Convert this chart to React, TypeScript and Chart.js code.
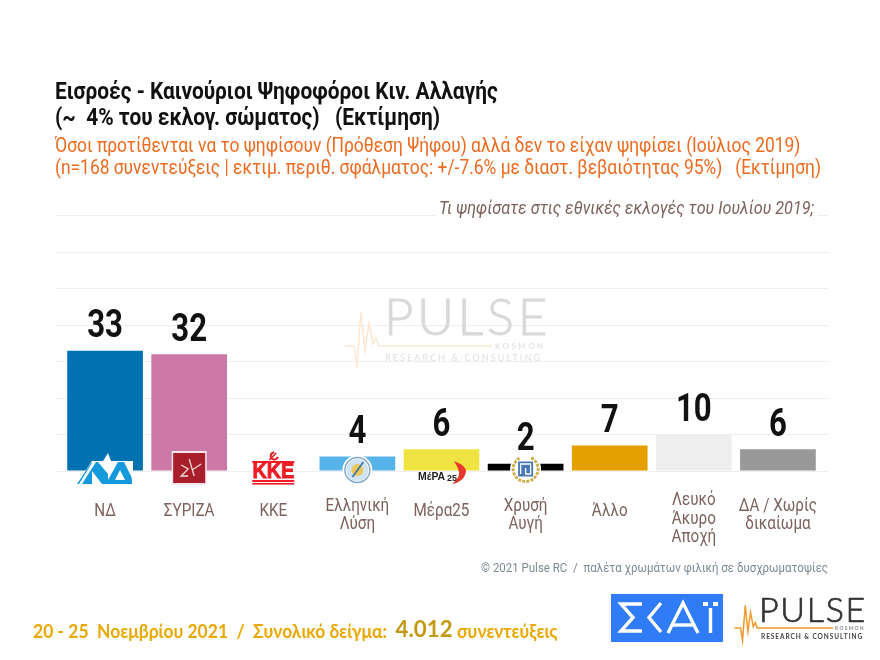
import React, { useEffect, useRef } from "react";
import { Chart, registerables } from "chart.js";

Chart.register(...registerables);

const categories: (string | string[])[] = [
  ["ΝΔ"], ["ΣΥΡΙΖΑ"], ["ΚΚΕ"], ["Ελληνική", "Λύση"], ["Μέρα25"], ["Χρυσή", "Αυγή"], ["Άλλο"],
  ["Λευκό", "Άκυρο", "Αποχή"], ["ΔΑ / Χωρίς", "δικαίωμα"],
];
const values = [33, 32, 0, 4, 6, 2, 7, 10, 6];
const barColors = ["#0072B2", "#CC79A7", "#D55E00", "#56B4E9", "#F0E442", "#000000", "#E69F00", "#EEEEEE", "#999999"];
const titleLines = ["Εισροές - Καινούριοι Ψηφοφόροι Κιν. Αλλαγής", "(~  4% του εκλογ. σώματος)   (Εκτίμηση)"];
const subtitleLines = [
  "Όσοι προτίθενται να το ψηφίσουν (Πρόθεση Ψήφου) αλλά δεν το είχαν ψηφίσει (Ιούλιος 2019)",
  "(n=168 συνεντεύξεις | εκτιμ. περιθ. σφάλματος: +/-7.6% με διαστ. βεβαιότητας 95%)   (Εκτίμηση)",
];
const questionText = "Τι ψηφίσατε στις εθνικές εκλογές του Ιουλίου 2019;";
const creditText = "© 2021 Pulse RC  /  παλέτα χρωμάτων φιλική σε δυσχρωματοψίες";
const sampleA = "20 - 25  Νοεμβρίου 2021  /  Συνολικό δείγμα:  ";
const sampleB = "4.012";
const sampleC = " συνεντεύξεις";

const ROBOTO = 'Roboto, sans-serif';
const CONDENSE = 0.87;

function text(ctx: any, s: string, x: number, y: number, font: string, color: string, align: string = "left", sx = 1) {
  ctx.save();
  ctx.font = font;
  ctx.fillStyle = color;
  ctx.textAlign = align;
  ctx.textBaseline = "middle";
  ctx.translate(x, y);
  ctx.scale(sx, 1);
  ctx.fillText(s, 0, 0);
  ctx.restore();
}

function poly(ctx: any, color: string, pts: number[][]) {
  ctx.fillStyle = color;
  ctx.beginPath();
  pts.forEach(([a, b], i) => (i ? ctx.lineTo(a, b) : ctx.moveTo(a, b)));
  ctx.closePath();
  ctx.fill();
}

function path(ctx: any, color: string, w: number, pts: number[][]) {
  ctx.strokeStyle = color;
  ctx.lineWidth = w;
  ctx.beginPath();
  pts.forEach(([a, b], i) => (i ? ctx.lineTo(a, b) : ctx.moveTo(a, b)));
  ctx.stroke();
}

function pulseLine(ctx: any, x: number, y: number, k: number, color: string, w: number) {
  const pts = [[0, 0], [9, 0], [12, 19], [16, -34], [20, 5], [24, -23], [28, -2], [31, -8], [34, 0], [147, 0]];
  ctx.save();
  path(ctx, color, w, pts.map(([a, b]) => [x + a * k, y + b * k]));
  ctx.restore();
}

function spaced(ctx: any, s: string, x: number, y: number, font: string, spacing: number, color: string, stroke = 0) {
  ctx.save();
  ctx.font = font;
  ctx.letterSpacing = `${spacing}px`;
  ctx.fillStyle = color;
  ctx.textAlign = "left";
  ctx.textBaseline = "middle";
  if (stroke) {
    ctx.strokeStyle = color;
    ctx.lineWidth = stroke;
    ctx.strokeText(s, x, y);
  }
  ctx.fillText(s, x, y);
  ctx.restore();
}

// There is no condensed face installed: library text is narrowed while the title and the axes draw.
const condensed = {
  id: "condensed",
  beforeDraw(chart: any) {
    const ctx = chart.ctx;
    const raw = ctx.fillText;
    const shift = new Map<string, number>();
    categories.forEach((lines) => lines.forEach((l) => shift.set(l, (lines.length - 2) * 4)));
    chart.$rawFill = raw;
    ctx.fillText = function (s: string, x: number, y: number) {
      ctx.save();
      ctx.translate(x, y + (shift.get(s) ?? 0));
      ctx.scale(CONDENSE, 1);
      raw.call(ctx, s, 0, 0);
      ctx.restore();
    };
  },
  beforeDatasetsDraw(chart: any) {
    delete chart.ctx.fillText;
  },
};

const extras = {
  id: "extras",
  beforeDatasetsDraw(chart: any) {
    const ctx = chart.ctx;
    pulseLine(ctx, 345, 346, 1, "#fde7d2", 1.5);
    spaced(ctx, "PULSE", 384, 319, "300 51px Lato, sans-serif", 3.5, "#d9d9d9", 0.8);
    spaced(ctx, "RESEARCH & CONSULTING", 385, 358, "9px Lato, sans-serif", 2.1, "#e0e0e0");
    spaced(ctx, "KOSMON", 495, 346, "bold 8px Lato, sans-serif", 2.4, "#e4e4e4");
    const yTop = chart.scales.y.getPixelForValue(70);
    ctx.save();
    ctx.fillStyle = "#fff";
    ctx.fillRect(437, yTop - 20, 381, 22);
    ctx.restore();
    text(ctx, questionText, 814, 209, `italic 18px ${ROBOTO}`, "#7d625c", "right", 0.9);
  },
  afterDatasetsDraw(chart: any) {
    const ctx = chart.ctx;
    const meta = chart.getDatasetMeta(0);
    meta.data.forEach((bar: any, i: number) => {
      if (values[i] > 0) text(ctx, String(values[i]), bar.x, bar.y - 23, `bold 38px ${ROBOTO}`, "#111111", "center", 0.82);
    });
    const cx = (i: number) => meta.data[i].x;

    // ΝΔ
    ctx.save();
    const n = "#1599dd";
    poly(ctx, "#fff", [[76, 485], [92, 461], [133, 461], [133, 485]]);
    poly(ctx, n, [[82, 484], [96, 462], [131, 462], [132, 484]]);
    poly(ctx, n, [[77, 484], [79, 484], [92, 463], [91, 463]]);
    poly(ctx, "#fff", [[98, 462], [108, 462], [108, 474]]);
    poly(ctx, "#fff", [[92, 484], [102, 484], [92, 471]]);
    poly(ctx, "#fff", [[108, 462], [118, 462], [108, 480]]);
    poly(ctx, "#fff", [[124, 462], [132, 462], [132, 478]]);
    poly(ctx, "#fff", [[120, 470], [115, 480], [125, 480]]);
    poly(ctx, "#ffffff", [[108, 453], [111, 461], [103, 461]]);
    ctx.restore();

    // ΣΥΡΙΖΑ
    ctx.save();
    const sx = cx(1);
    ctx.fillStyle = "#f4e6ea";
    ctx.fillRect(sx - 17.5, 451, 35, 34);
    ctx.fillStyle = "#a81f2b";
    ctx.fillRect(sx - 16, 453, 32, 30);
    path(ctx, "#f3d9d9", 1.3, [[sx, 459], [sx + 5, 476]]);
    path(ctx, "#f3d9d9", 1.3, [[sx - 8, 465], [sx - 1, 469], [sx - 8, 476], [sx - 1, 476]]);
    path(ctx, "#f3d9d9", 1.3, [[sx + 3, 470], [sx + 12, 464]]);
    ctx.restore();

    // ΚΚΕ
    ctx.save();
    const kx = cx(2);
    ctx.fillStyle = "#ee1c25";
    ctx.fillRect(kx - 21, 461, 42, 2);
    ctx.fillRect(kx - 21, 480, 42, 2);
    ctx.fillRect(kx - 21, 483, 42, 1.6);
    ctx.beginPath();
    ctx.arc(kx + 1, 456, 3.6, 0.2, Math.PI * 1.5);
    ctx.lineWidth = 2;
    ctx.strokeStyle = "#dd1c25";
    ctx.stroke();
    path(ctx, "#dd1c25", 1.6, [[kx - 4, 460], [kx + 3, 453]]);
    ctx.font = 'bold 22px "Liberation Sans", sans-serif';
    ctx.textAlign = "center";
    ctx.textBaseline = "middle";
    ctx.translate(kx, 472);
    ctx.scale(0.9, 1);
    ctx.lineWidth = 0.9;
    ctx.strokeStyle = "#ee1c25";
    ctx.strokeText("ΚΚΕ", 0, 0);
    ctx.fillStyle = "#ee1c25";
    ctx.fillText("ΚΚΕ", 0, 0);
    ctx.restore();

    // Ελληνική Λύση
    ctx.save();
    const lx = cx(3), ly = 470;
    ctx.fillStyle = "#fff";
    ctx.beginPath(); ctx.arc(lx, ly, 15, 0, 7); ctx.fill();
    ctx.strokeStyle = "#7fa6c9"; ctx.lineWidth = 1.4;
    ctx.beginPath(); ctx.arc(lx, ly, 12.5, 0, 7); ctx.stroke();
    ctx.fillStyle = "#cfe3f2";
    ctx.beginPath(); ctx.arc(lx, ly, 11, 0, 7); ctx.fill();
    ctx.fillStyle = "#e9c85a";
    ctx.beginPath(); ctx.arc(lx, ly, 6, 0, 7); ctx.fill();
    path(ctx, "#3f6fa8", 1.6, [[lx + 6, ly - 8], [lx - 5, ly + 7]]);
    ctx.restore();

    // ΜέΡΑ25
    text(ctx, "ΜέΡΑ", 418, 477, 'bold 11px "Liberation Sans", sans-serif', "#222222", "left", 0.95);
    text(ctx, "25", 447, 479, 'bold 9px "Liberation Sans", sans-serif', "#222222", "left");
    ctx.save();
    ctx.fillStyle = "#e8382c";
    ctx.beginPath();
    ctx.moveTo(454, 461);
    ctx.quadraticCurveTo(467, 466, 466, 472);
    ctx.quadraticCurveTo(464, 482, 452, 484);
    ctx.quadraticCurveTo(460, 478, 459, 472);
    ctx.quadraticCurveTo(458, 467, 454, 461);
    ctx.fill();
    ctx.restore();

    // Χρυσή Αυγή
    ctx.save();
    const gx = cx(5), gy = 469;
    ctx.fillStyle = "#fff";
    ctx.beginPath(); ctx.arc(gx, gy, 15.5, 0, 7); ctx.fill();
    ctx.strokeStyle = "#c9ad45"; ctx.lineWidth = 2.8; ctx.setLineDash([3, 1.2]);
    ctx.beginPath(); ctx.arc(gx, gy, 12.5, -1.1, 4.2); ctx.stroke();
    ctx.setLineDash([]);
    ctx.fillStyle = "#4a78b5";
    ctx.fillRect(gx - 7.5, gy - 7.5, 15, 15);
    path(ctx, "#fff", 1.3, [[gx - 5, gy + 5], [gx - 5, gy - 5], [gx + 5, gy - 5], [gx + 5, gy + 5], [gx, gy + 5], [gx, gy - 1]]);
    ctx.restore();

    // footer
    text(ctx, creditText, 828, 569, `13.5px ${ROBOTO}`, "#7b8b93", "right", 0.85);
    const fa = "bold 18px Lato, sans-serif";
    const fb = "bold 23px Lato, sans-serif";
    const k = 0.97;
    let x = 33;
    ctx.save();
    ctx.font = fa;
    const wa = ctx.measureText(sampleA).width * k;
    ctx.font = fb;
    const wb = ctx.measureText(sampleB).width * k;
    ctx.restore();
    text(ctx, sampleA, x, 632, fa, "#e9a800", "left", k);
    x += wa;
    text(ctx, sampleB, x, 630, fb, "#c29a12", "left", k);
    x += wb;
    text(ctx, sampleC, x, 632, fa, "#e9a800", "left", k);

    // ΣΚΑΪ logo
    ctx.save();
    ctx.fillStyle = "#2f7cf6";
    ctx.fillRect(611, 594, 112, 48);
    const w = "#ffffff";
    path(ctx, w, 3.4, [[642, 604], [621, 604], [633, 617.5], [621, 631], [642, 631]]);
    path(ctx, w, 3.4, [[661, 603], [649, 617.5], [661, 632]]);
    path(ctx, w, 3.4, [[668, 633], [683, 603], [698, 633]]);
    path(ctx, w, 3.4, [[673, 625], [693, 625]]);
    path(ctx, w, 3.4, [[710.5, 608], [710.5, 633]]);
    ctx.fillStyle = w;
    ctx.fillRect(703, 602, 5, 4);
    ctx.fillRect(713, 602, 5, 4);
    ctx.restore();

    // Pulse logo
    pulseLine(ctx, 734.5, 628, 0.67, "#f29a2e", 1.5);
    spaced(ctx, "PULSE", 759, 611.5, "300 34px Lato, sans-serif", 1.7, "#333333", 0.7);
    spaced(ctx, "RESEARCH & CONSULTING", 761, 637, "bold 6.5px Lato, sans-serif", 0.95, "#444444");
    spaced(ctx, "KOSMON", 835, 628, "bold 5px Lato, sans-serif", 1.2, "#8a8a8a");
  },
};

export default function App() {
  const ref = useRef<HTMLCanvasElement>(null);
  useEffect(() => {
    const chart = new Chart(ref.current as HTMLCanvasElement, {
      type: "bar",
      data: {
        labels: categories as any,
        datasets: [{ data: values, backgroundColor: barColors, barPercentage: 0.9, categoryPercentage: 1, borderWidth: 0, yAxisID: "y" }],
      },
      options: {
        animation: false,
        responsive: false,
        layout: { padding: { left: 55, right: 52, top: 0, bottom: 0 } },
        plugins: {
          legend: { display: false },
          tooltip: { enabled: false },
          title: {
            display: true, text: titleLines, align: "start", color: "#111111",
            font: { family: ROBOTO, size: 24, weight: "bold", lineHeight: 1.09 },
            padding: { top: 80, bottom: 4 },
          },
          subtitle: {
            display: true, text: subtitleLines, align: "start", color: "#ee6a1f",
            font: { family: ROBOTO, size: 20, weight: "normal", lineHeight: 1.1 },
            padding: { top: 0, bottom: 35.5 },
          },
        },
        scales: {
          x: {
            type: "category",
            grid: { display: false, drawTicks: false },
            border: { display: false },
            afterFit: (s: any) => { s.height = 189; },
            ticks: {
              color: "#7d625c", autoSkip: false, maxRotation: 0, crossAlign: "center", padding: 26,
              font: { family: ROBOTO, size: 17.5, lineHeight: 1.06 },
            },
          },
          y: {
            min: 0, max: 70,
            ticks: { display: false, stepSize: 10 },
            grid: { color: "#eeeeee", lineWidth: 1, tickLength: 8, drawTicks: true },
            border: { display: false },
          },
          y2: {
            position: "right", min: 0, max: 70,
            ticks: { display: false, stepSize: 10 },
            grid: { color: "#eeeeee", lineWidth: 1, tickLength: 8, drawTicks: true, drawOnChartArea: false },
            border: { display: false },
          },
        },
      },
      plugins: [condensed, extras],
    } as any);
    return () => chart.destroy();
  }, []);
  return (
    <div style={{ position: "absolute", left: 0, top: 0, width: 880, height: 660, background: "#fff" }}>
      <canvas ref={ref} width={880} height={660} style={{ display: "block" }} />
    </div>
  );
}
